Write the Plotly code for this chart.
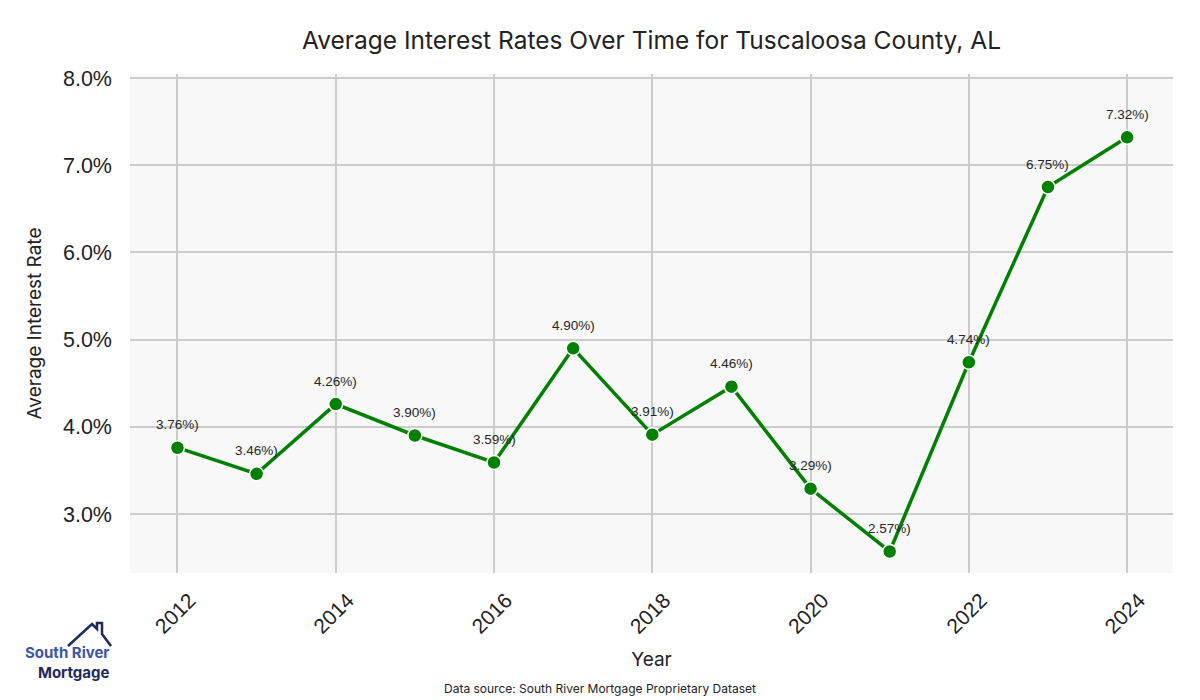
import plotly.graph_objects as go

years = [2012, 2013, 2014, 2015, 2016, 2017, 2018, 2019, 2020, 2021, 2022, 2023, 2024]
rates = [3.76, 3.46, 4.26, 3.90, 3.59, 4.90, 3.91, 4.46, 3.29, 2.57, 4.74, 6.75, 7.32]
labels = [f"{v:.2f}%)" for v in rates]
x_ticks = [2012, 2014, 2016, 2018, 2020, 2022, 2024]
y_ticks = [3, 4, 5, 6, 7, 8]
y_tick_labels = [f"{v:.1f}%" for v in y_ticks]

L, R, T, B = 130, 1173, 74, 573


def px(xp):
    return (xp - L) / (R - L)


def py(yp):
    return (B - yp) / (B - T)


fig = go.Figure()
fig.add_trace(go.Scatter(
    x=years, y=rates, mode="lines+markers",
    line=dict(color="#008000", width=3.5),
    marker=dict(color="#008000", size=14, line=dict(color="white", width=1.5)),
    hoverinfo="x+y", showlegend=False,
))

for x, y, t in zip(years, rates, labels):
    fig.add_annotation(x=x, y=y, text=t, showarrow=False, yshift=23,
                       font=dict(family="Liberation Sans", size=13.5, color="#262626"))

fig.add_annotation(xref="paper", yref="paper", x=px(600), y=py(688), xanchor="center", yanchor="middle",
                   text="Data source: South River Mortgage Proprietary Dataset", showarrow=False,
                   font=dict(family="Inter", size=12, color="#222"))

# Logo
roof = (f"M {px(68)} {py(646)} L {px(92)} {py(624)} L {px(97)} {py(629)} L {px(97)} {py(623)} "
        f"L {px(102)} {py(623)} L {px(102)} {py(634)} L {px(111)} {py(646)}")
fig.add_shape(type="path", xref="paper", yref="paper", path=roof,
              line=dict(color="#1f2a5e", width=2.5))
fig.add_annotation(xref="paper", yref="paper", x=px(112), y=py(662),
                   text="<b><span style='color:#3d55a5'>South River</span><br>Mortgage</b>",
                   showarrow=False, xanchor="right", yanchor="middle", align="right",
                   font=dict(family="Inter", size=15, color="#1f2a5e"))

fig.update_layout(
    width=1200, height=700,
    margin=dict(l=L, r=1200 - R, t=T, b=700 - B),
    paper_bgcolor="white", plot_bgcolor="#f8f8f8",
    title=dict(text="Average Interest Rates Over Time for Tuscaloosa County, AL",
               x=0.5, xref="paper", xanchor="center", y=1 - 40 / 700, yanchor="middle",
               font=dict(family="Inter", size=24.5, color="#222")),
    xaxis=dict(range=[2011.4, 2024.58], tickmode="array", tickvals=x_ticks,
               ticktext=[str(v) for v in x_ticks], tickangle=-45,
               ticklabelshift=12, ticklabelstandoff=10,
               showgrid=True, gridcolor="#cccccc", gridwidth=2, zeroline=False,
               showline=False, ticks="",
               tickfont=dict(family="Liberation Sans", size=21, color="#222"),
               title=dict(text="Year", font=dict(family="Inter", size=19, color="#222"), standoff=15)),
    yaxis=dict(range=[2.323, 8.046], tickmode="array", tickvals=y_ticks, ticktext=y_tick_labels,
               ticklabelstandoff=17,
               showgrid=True, gridcolor="#cccccc", gridwidth=2, zeroline=False,
               showline=False, ticks="",
               tickfont=dict(family="Liberation Sans", size=21.5, color="#222"),
               title=dict(text="Average Interest Rate", font=dict(family="Inter", size=19, color="#222"), standoff=16)),
)

fig.write_html("out.html", config={"displayModeBar": False},
               post_script="document.body.style.margin='0';")
